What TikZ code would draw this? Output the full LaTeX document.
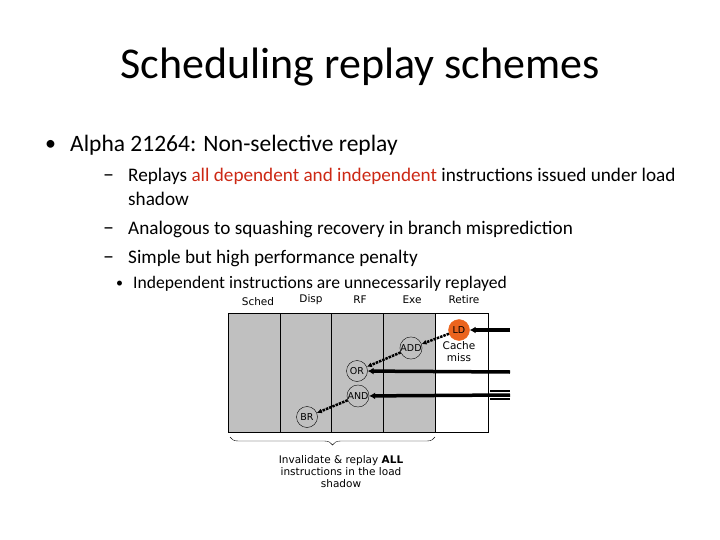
\documentclass[tikz,border=0pt]{standalone}
\usepackage{fontspec}
\setmainfont{Carlito}
\newfontfamily\tah{DejaVu Sans}
\usetikzlibrary{decorations.pathreplacing,arrows.meta}
\definecolor{myred}{RGB}{204,40,20}
\definecolor{ldor}{RGB}{235,100,30}
\definecolor{pgray}{RGB}{192,192,192}
\begin{document}
\begin{tikzpicture}[x=1pt,y=-1pt,
  txt/.style={anchor=west,inner sep=0pt},
  lab/.style={font=\tah\fontsize{10.5}{12}\selectfont,inner sep=0pt},
  instr/.style={circle,draw,minimum size=21pt,inner sep=0pt,font=\tah\fontsize{9.5}{10}\selectfont},
  dep/.style={densely dotted,line width=2.5pt,-{Latex[length=5pt,width=5pt]}},
  feed/.style={line width=3.5pt,-{Latex[length=6pt,width=7pt]}}]
\useasboundingbox (0,0) rectangle (720,540);
\node[inner sep=0pt] (title) at (360,67) {\fontsize{44}{50}\selectfont Scheduling replay schemes};
\node[txt] (b1) at (45,145) {\fontsize{22}{26}\selectfont •};
\node[txt] (t1) at (70,145) {\fontsize{23.5}{28}\selectfont Alpha 21264: Non-selective replay};
\node[txt] (d1) at (103,178) {\fontsize{22}{22}\selectfont –};
\node[txt] (s1) at (128,176) {\fontsize{19.2}{22}\selectfont Replays \textcolor{myred}{all dependent and independent} instructions issued under load};
\node[txt] (s1b) at (128,199) {\fontsize{19.2}{22}\selectfont shadow};
\node[txt] (d2) at (103,231) {\fontsize{22}{22}\selectfont –};
\node[txt] (s2) at (128,229) {\fontsize{19.2}{22}\selectfont Analogous to squashing recovery in branch misprediction};
\node[txt] (d3) at (103,260) {\fontsize{22}{22}\selectfont –};
\node[txt] (s3) at (128,258) {\fontsize{19.2}{22}\selectfont Simple but high performance penalty};
\node[txt] (b4) at (116,284) {\fontsize{14}{17}\selectfont •};
\node[txt] (s4) at (133,284) {\fontsize{17.6}{20}\selectfont Independent instructions are unnecessarily replayed};
% pipeline
\fill[pgray] (228,313) rectangle (435,432);
\draw (228,313) rectangle (488,432);
\foreach \x in {280,331,383,435} \draw (\x,313) -- (\x,432);
\node[lab] (l1) at (258,302) {Sched};
\node[lab] (l2) at (311,300) {Disp};
\node[lab] (l3) at (360,300) {RF};
\node[lab] (l4) at (412,300) {Exe};
\node[lab] (l5) at (464,300) {Retire};
\node[instr,fill=ldor,draw=ldor] (ld) at (459,330) {LD};
\node[lab,align=center] (cm) at (459,352) {Cache\\miss};
\node[instr] (add) at (411,348) {ADD};
\node[instr] (or) at (357,371) {OR};
\node[instr] (and) at (358,396) {AND};
\node[instr] (br) at (307,417) {BR};
\draw[dep] (ld) -- (add);
\draw[dep] (add) -- (or);
\draw[dep] (and) -- (br);
\coordinate (f1) at (510,330);
\coordinate (f2) at (510,372);
\coordinate (f3) at (510,395);
\draw[feed] (f1) -- (ld);
\draw[feed] (f2) -- (or);
\draw[feed] (f3) -- (and);
\draw[line width=1.2pt] (490,391) -- (510,391) (490,399) -- (510,399);
\draw[decorate,decoration={brace,amplitude=8pt,mirror}] (230,437) -- (435,437);
\node[lab,align=center] (note) at (341,472) {Invalidate \& replay \textbf{ALL}\\instructions in the load\\shadow};
\end{tikzpicture}
\end{document}
